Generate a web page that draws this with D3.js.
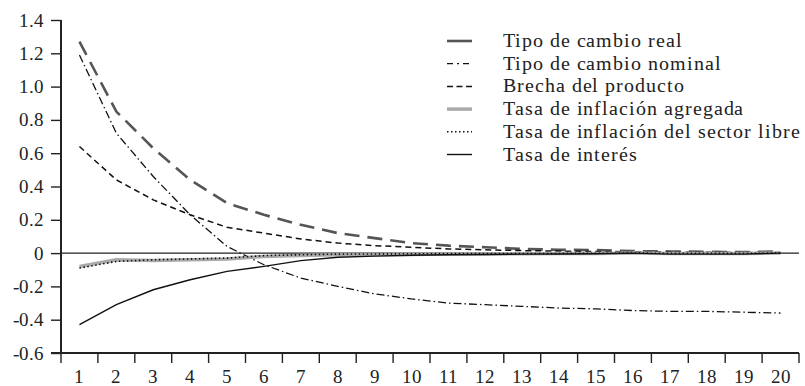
<!DOCTYPE html>
<html>
<head>
<meta charset="utf-8">
<script src="https://cdn.jsdelivr.net/npm/d3@7"></script>
<style>
  @font-face {
    font-family: "ChartSerif";
    src: local("Liberation Serif"), local("LiberationSerif"), local("LiberationSerif-Regular"), local("Times New Roman");
  }
</style>
</head>
<body style="margin:0">
<svg id="chart" width="805" height="386"></svg>
<script>
// periods and tick labels
var periods = d3.range(1, 21);
var yTicks = [-0.6, -0.4, -0.2, 0, 0.2, 0.4, 0.6, 0.8, 1.0, 1.2, 1.4];

// series
var tipoCambioReal = [1.27, 0.85, 0.63, 0.44, 0.30, 0.23, 0.17, 0.12, 0.09, 0.06, 0.045, 0.035, 0.025, 0.02, 0.018, 0.012, 0.01, 0.008, 0.006, 0.01];
var tipoCambioNominal = [1.19, 0.72, 0.46, 0.23, 0.04, -0.07, -0.15, -0.20, -0.245, -0.275, -0.30, -0.31, -0.32, -0.33, -0.335, -0.345, -0.35, -0.35, -0.355, -0.36];
var brechaProducto = [0.64, 0.44, 0.32, 0.23, 0.155, 0.12, 0.085, 0.06, 0.045, 0.035, 0.025, 0.02, 0.015, 0.012, 0.01, 0.008, 0.006, 0.005, 0.004, 0.004];
var inflacionAgregada = [-0.08, -0.04, -0.045, -0.04, -0.035, -0.02, -0.015, -0.01, -0.01, -0.008, -0.006, -0.005, -0.004, -0.003, -0.002, 0.0, -0.002, -0.002, -0.002, 0.0];
var inflacionLibre = [-0.09, -0.05, -0.04, -0.035, -0.03, -0.015, -0.01, -0.006, -0.005, -0.004, -0.003, -0.003, -0.002, -0.002, -0.001, 0.0, -0.001, -0.001, -0.001, 0.0];
var tasaInteres = [-0.43, -0.31, -0.22, -0.16, -0.11, -0.08, -0.045, -0.025, -0.018, -0.013, -0.01, -0.008, -0.006, -0.005, -0.004, 0.0, -0.006, -0.006, -0.006, 0.0];

var series = [
  {name: "Tipo de cambio real", values: tipoCambioReal, color: "#555", width: 2.6, dash: "15,8"},
  {name: "Tipo de cambio nominal", values: tipoCambioNominal, color: "#111", width: 1.3, dash: "8,3,1.5,3"},
  {name: "Brecha del producto", values: brechaProducto, color: "#111", width: 1.5, dash: "6,4"},
  {name: "Tasa de inflación agregada", values: inflacionAgregada, color: "#aaa", width: 3.5, dash: null},
  {name: "Tasa de inflación del sector libre", values: inflacionLibre, color: "#111", width: 1.6, dash: "1.5,2.5"},
  {name: "Tasa de interés", values: tasaInteres, color: "#111", width: 1.4, dash: null}
];

var serifFont = "ChartSerif, 'Liberation Serif'";

var margin = {top: 20, right: 6, bottom: 33, left: 61};
var width = 805 - margin.left - margin.right;
var height = 386 - margin.top - margin.bottom;

var svg = d3.select("#chart");
var g = svg.append("g")
  .attr("transform", "translate(" + margin.left + "," + margin.top + ")");

var x = d3.scaleBand()
  .domain(periods)
  .range([0, width]);

var y = d3.scaleLinear()
  .domain([-0.6, 1.4])
  .range([height, 0]);

function yFormat(d) {
  if (d === 0) return "0";
  return d3.format(".1f")(d).replace("−", "-");
}

// zero line
g.append("line")
  .attr("x1", 0)
  .attr("x2", width)
  .attr("y1", y(0))
  .attr("y2", y(0))
  .attr("stroke", "#222")
  .attr("stroke-width", 1.2);

// series
var line = d3.line()
  .x(function(d, i) { return x(periods[i]) + x.bandwidth() / 2; })
  .y(function(d) { return y(d); });

series.forEach(function(s) {
  g.append("path")
    .datum(s.values)
    .attr("d", line)
    .attr("fill", "none")
    .attr("stroke", s.color)
    .attr("stroke-width", s.width)
    .attr("stroke-dasharray", s.dash);
});

// y axis
var yAxis = g.append("g")
  .call(d3.axisLeft(y).tickValues(yTicks).tickFormat(yFormat).tickSize(10).tickPadding(7));
yAxis.attr("font-family", serifFont).attr("font-size", 19);
yAxis.select(".domain").attr("stroke", "#222").attr("stroke-width", 2).attr("d", "M0," + height + "V0");
yAxis.selectAll(".tick line").attr("stroke", "#222").attr("stroke-width", 1.4);
yAxis.selectAll(".tick text")
  .style("font-family", serifFont)
  .style("font-size", "19px")
  .attr("fill", "#222");

// x axis, ticks sit on the band edges
var xAxis = g.append("g")
  .attr("transform", "translate(0," + height + ")")
  .call(d3.axisBottom(x).tickSize(0).tickPadding(17));
xAxis.attr("font-family", serifFont).attr("font-size", 19);
xAxis.select(".domain").attr("stroke", "#222").attr("stroke-width", 2).attr("d", "M-10,0H" + width);
xAxis.selectAll(".tick text")
  .style("font-family", serifFont)
  .style("font-size", "19px")
  .attr("fill", "#222");

var edges = periods.map(function(p) { return x(p); }).concat([width]);
xAxis.selectAll(".edge")
  .data(edges)
  .enter().append("line")
  .attr("class", "edge")
  .attr("x1", function(d) { return d; })
  .attr("x2", function(d) { return d; })
  .attr("y1", 0)
  .attr("y2", 10)
  .attr("stroke", "#222")
  .attr("stroke-width", 1.4);

// legend
var legendX = 447, legendY = 41, legendStep = 22.7;
series.forEach(function(s, i) {
  var dash = s.dash;
  if (i === 0) dash = null;
  if (i === 1) dash = "6,4,2,4";
  if (i === 2) dash = "6,3.5";
  svg.append("line")
    .attr("x1", legendX)
    .attr("x2", legendX + 25)
    .attr("y1", legendY + i * legendStep)
    .attr("y2", legendY + i * legendStep)
    .attr("stroke", s.color)
    .attr("stroke-width", s.width)
    .attr("stroke-dasharray", dash);
});
var legendText = svg.selectAll(".legend-text")
  .data(series)
  .enter().append("text")
  .attr("class", "legend-text")
  .attr("x", legendX + 56)
  .attr("y", function(d, i) { return legendY + 6 + i * legendStep; })
  .style("font-family", serifFont)
  .style("font-size", "19.5px")
  .style("fill", "#222")
  .text(function(d) { return d.name; });

// the original typeface is wider: spread the letters so the longest entry ends near x = 800
var longest = legendText.nodes()[4];
var extra = (297 - longest.getComputedTextLength()) / (series[4].name.length - 1);
if (extra > 0 && extra < 3) legendText.style("letter-spacing", extra + "px");
</script>
</body>
</html>
